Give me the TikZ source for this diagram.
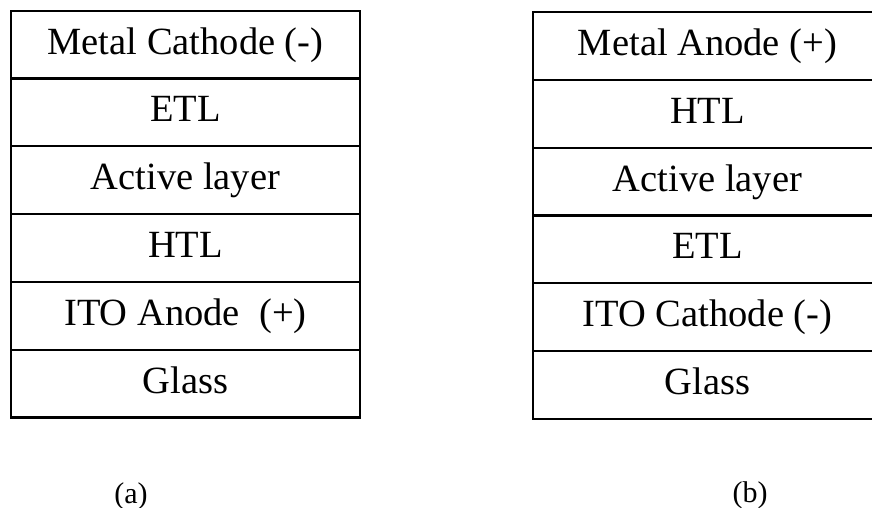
\documentclass[tikz,border=0pt]{standalone}
\usepackage{fontspec}
\setmainfont{Liberation Serif}
\usepackage{tikz}
\usetikzlibrary{positioning}
\tikzstyle{layer} = [rectangle, minimum width=349pt, minimum height=67.8pt, text centered, draw=black, line width=2.2pt, outer sep=0pt, inner sep=0pt, text height=27pt, text depth=8pt, font=\fontsize{38.5}{40}\selectfont]
\tikzstyle{caption} = [font=\fontsize{30}{32}\selectfont]

\begin{document}
\begin{tikzpicture}[x=1pt, y=-1pt, node distance=67.8pt]
				\useasboundingbox (0,0) rectangle (872,508);

				% (a) normal structure
				\node (cathA) [layer] at (185.5,44.6) {Metal Cathode (-)};
				\node (etlA) [layer, below of=cathA] {ETL};
				\node (actA) [layer, below of=etlA] {Active layer};
				\node (htlA) [layer, below of=actA] {HTL};
				\node (itoA) [layer, below of=htlA] {ITO Anode \ (+)};
				\node (glassA) [layer, below of=itoA] {Glass};
				\node (capA) [caption, below of=glassA, yshift=-44.5pt, xshift=-54.5pt] {(a)};

				% (b) inverted structure
				\node (anoB) [layer] at (707.5,45.9) {Metal Anode (+)};
				\node (htlB) [layer, below of=anoB] {HTL};
				\node (actB) [layer, below of=htlB] {Active layer};
				\node (etlB) [layer, below of=actB] {ETL};
				\node (itoB) [layer, below of=etlB] {ITO Cathode (-)};
				\node (glassB) [layer, below of=itoB] {Glass};
				\node (capB) [caption, below of=glassB, yshift=-43pt, xshift=42.5pt] {(b)};
			\end{tikzpicture}
\end{document}
